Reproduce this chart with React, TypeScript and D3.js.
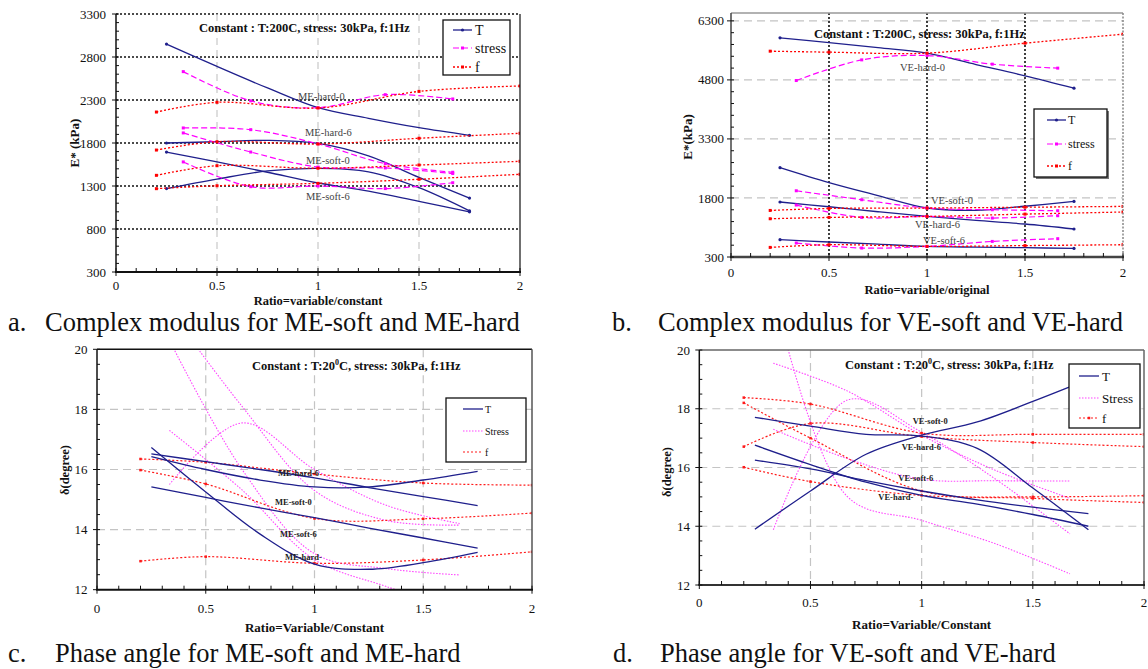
import React from "react";
import * as d3 from "d3";

const W = 1148;
const H = 669;
const FONT = '"Liberation Serif","Times New Roman",Times,serif';

// ---------- shared x values ----------
const X_T = [0.25, 0.5, 0.75, 1, 1.25, 1.5, 1.75];
const X_S = [0.333, 0.667, 1, 1.333, 1.667];
const X_F = [0.2, 0.5, 1, 1.5, 2];
const X_TICKS = [0, 0.5, 1, 1.5, 2];

// ---------- panel a : E* ME ----------
const A_Y_TICKS = [300, 800, 1300, 1800, 2300, 2800, 3300];
const A_T_HARD0 = [2950, 2690, 2440, 2210, 2087, 1978, 1889];
const A_T_HARD6 = [1800, 1815, 1830, 1795, 1650, 1400, 1160];
const A_T_SOFT0 = [1270, 1380, 1475, 1505, 1465, 1280, 1010];
const A_T_SOFT6 = [1695, 1580, 1460, 1335, 1240, 1120, 1000];
const A_S_HARD0 = [2630, 2290, 2210, 2362, 2312];
const A_S_HARD6 = [1975, 1955, 1790, 1560, 1460];
const A_S_SOFT0 = [1917, 1695, 1520, 1510, 1445];
const A_S_SOFT6 = [1580, 1292, 1300, 1270, 1338];
const A_F_HARD0 = [2160, 2273, 2207, 2400, 2463];
const A_F_HARD6 = [1718, 1815, 1788, 1855, 1913];
const A_F_SOFT0 = [1424, 1536, 1506, 1544, 1587];
const A_F_SOFT6 = [1269, 1303, 1331, 1378, 1436];
const A_LABELS = ["ME-hard-0", "ME-hard-6", "ME-soft-0", "ME-soft-6"];

// ---------- panel b : E* VE ----------
const B_Y_TICKS = [300, 1800, 3300, 4800, 6300];
const B_T_HARD0 = [5868, 5749, 5620, 5480, 5190, 4903, 4591];
const B_T_SOFT0 = [2570, 2190, 1860, 1545, 1485, 1590, 1712];
const B_T_HARD6 = [1697, 1577, 1450, 1331, 1230, 1138, 1011];
const B_T_SOFT6 = [739, 681, 625, 569, 550, 536, 518];
const B_S_HARD0 = [4784, 5309, 5420, 5200, 5099];
const B_S_SOFT0 = [1983, 1755, 1544, 1501, 1476];
const B_S_HARD6 = [1620, 1306, 1331, 1290, 1349];
const B_S_SOFT6 = [655, 528, 569, 696, 765];
const B_F_HARD0 = [5530, 5505, 5480, 5733, 5962];
const B_F_SOFT0 = [1483, 1534, 1544, 1565, 1585];
const B_F_HARD6 = [1272, 1306, 1331, 1390, 1443];
const B_F_SOFT6 = [544, 612, 569, 590, 612];
const B_LABELS = ["VE-hard-0", "VE-soft-0", "VE-hard-6", "VE-soft-6"];

// ---------- panel c : delta ME ----------
const C_Y_TICKS = [12, 14, 16, 18, 20];
const C_T_1 = [16.73, 15.25, 13.85, 12.85, 12.68, 12.9, 13.24];
const C_T_2 = [16.52, 16.26, 16.0, 15.72, 15.4, 15.1, 14.8];
const C_T_3 = [16.43, 16.0, 15.65, 15.42, 15.42, 15.65, 15.94];
const C_T_4 = [15.42, 15.07, 14.72, 14.4, 14.05, 13.72, 13.38];
const C_S_1 = [20.3, 16.0, 13.2, 12.7, 12.49];
const C_S_2 = [21.3, 18.1, 15.3, 14.3, 14.15];
const C_S_3 = [15.5, 17.55, 16.0, 14.8, 14.2];
const C_S_4 = [17.3, 15.32, 13.0, 12.1, 11.3];
const C_F_1 = [16.35, 16.24, 15.85, 15.55, 15.48];
const C_F_2 = [15.98, 15.52, 14.37, 14.36, 14.55];
const C_F_3 = [12.95, 13.1, 12.88, 12.99, 13.26];
const C_LABELS = ["ME-hard-6", "ME-soft-0", "ME-soft-6", "ME-hard-"];

// ---------- panel d : delta VE ----------
const D_Y_TICKS = [12, 14, 16, 18, 20];
const D_T_1 = [13.9, 15.2, 16.45, 17.1, 17.55, 18.25, 19.0];
const D_T_2 = [17.71, 17.41, 17.13, 17.07, 16.65, 15.3, 13.88];
const D_T_3 = [16.76, 16.1, 15.5, 15.05, 14.75, 14.4, 14.0];
const D_T_4 = [16.25, 15.95, 15.55, 15.2, 14.9, 14.65, 14.43];
const D_S_1 = [19.55, 18.6, 17.1, 15.9, 14.95];
const D_S_2 = [22.0, 15.0, 14.2, 13.4, 12.38];
const D_S_3 = [13.88, 18.3, 17.2, 15.6, 13.74];
const D_S_4 = [17.3, 16.3, 15.6, 15.55, 15.54];
const D_F_1 = [18.38, 18.16, 17.17, 17.13, 17.13];
const D_F_2 = [18.2, 17.0, 15.2, 14.95, 14.81];
const D_F_3 = [16.71, 17.5, 17.05, 16.85, 16.71];
const D_F_4 = [16.01, 15.52, 15.05, 15.0, 15.04];
const D_LABELS = ["VE-soft-0", "VE-hard-6", "VE-soft-6", "VE-hard-"];

type Kind = "T" | "S" | "F";
type Sty = { stroke: string; width: number; dash?: string; marker?: "sq" | "dot" | null; mSize?: number; marks?: "all" | "ends" | "none" };

const STY_AB: Record<Kind, Sty> = {
  T: { stroke: "#1f1f8c", width: 1.3, marker: "dot", mSize: 1.6, marks: "ends" },
  S: { stroke: "#ff00ff", width: 1.2, dash: "6,3", marker: "sq", mSize: 3, marks: "all" },
  F: { stroke: "#ff0000", width: 1.3, dash: "2,2", marker: "sq", mSize: 3, marks: "all" },
};
const STY_CD: Record<Kind, Sty> = {
  T: { stroke: "#1f1f8c", width: 1.3, marker: null, marks: "none" },
  S: { stroke: "#ff44ff", width: 1.1, dash: "1.5,1.5", marker: null, marks: "none" },
  F: { stroke: "#ff1a1a", width: 1.2, dash: "2,2", marker: "sq", mSize: 2.5, marks: "all" },
};

function mk(xs: number[], ys: number[], kind: Kind) {
  return { xs, ys, kind };
}

function Marker({ cx, cy, s }: { cx: number; cy: number; s: Sty }) {
  if (!s.marker) return null;
  const m = s.mSize || 2;
  if (s.marker === "dot") return <circle cx={cx} cy={cy} r={m} fill={s.stroke} />;
  return <rect x={cx - m / 2} y={cy - m / 2} width={m} height={m} fill={s.stroke} />;
}

function Panel(p: any) {
  const { id, l, r, t, b, yDomain, yTicks, yMinor, hGrid, hGridSty, vGridSty, series, sty, frame, tickFont, yLabelX, xLabelDy, xTitle, xTitleY, xTitleSize, yTitle, yTitleX, yTitleY, yTitleSize, labels, labelPos, labelSty, legend, note, noteX, noteY, legendLines } = p;
  const x = d3.scaleLinear().domain([0, 2]).range([l, r]);
  const y = d3.scaleLinear().domain(yDomain).range([b, t]);
  const line = d3
    .line<[number, number]>()
    .x((d) => x(d[0]))
    .y((d) => y(d[1]))
    .curve(d3.curveCatmullRom.alpha(0.5));
  const minorY = d3.range(yDomain[0], yDomain[1] + 1e-6, yMinor);
  const minorX = d3.range(0, 20.5, 1).map((v) => v / 10);
  return (
    <g>
      <defs>
        <clipPath id={id}>
          <rect x={l} y={t} width={r - l} height={b - t} />
        </clipPath>
      </defs>
      {hGrid.map((v: number) => (
        <line key={"h" + v} x1={l} x2={r} y1={y(v)} y2={y(v)} stroke={hGridSty.stroke} strokeWidth={hGridSty.width} strokeDasharray={hGridSty.dash} />
      ))}
      {[0.5, 1, 1.5].map((v) => (
        <line key={"v" + v} x1={x(v)} x2={x(v)} y1={t} y2={b} stroke={vGridSty.stroke} strokeWidth={vGridSty.width} strokeDasharray={vGridSty.dash} />
      ))}
      <g clipPath={`url(#${id})`}>
        {series.map((s: any, i: number) => {
          const st: Sty = sty[s.kind];
          const pts: [number, number][] = s.xs.map((xv: number, k: number) => [xv, s.ys[k]]);
          return (
            <g key={i}>
              <path d={line(pts) || ""} fill="none" stroke={st.stroke} strokeWidth={st.width} strokeDasharray={st.dash} />
              {pts.map((pt, k) => {
                if (st.marks === "none") return null;
                if (st.marks === "ends" && k !== 0 && k !== pts.length - 1) return null;
                return <Marker key={k} cx={x(pt[0])} cy={y(pt[1])} s={st} />;
              })}
            </g>
          );
        })}
      </g>
      {frame.top && <line x1={l} x2={r} y1={t} y2={t} stroke={frame.top.stroke} strokeWidth={frame.top.width} strokeDasharray={frame.top.dash} />}
      {frame.right && <line x1={r} x2={r} y1={t} y2={b} stroke={frame.right.stroke} strokeWidth={frame.right.width} strokeDasharray={frame.right.dash} />}
      <line x1={l} x2={l} y1={t} y2={b} stroke={frame.left.stroke} strokeWidth={frame.left.width} />
      <line x1={l - 1} x2={r + 1} y1={b} y2={b} stroke={frame.bottom.stroke} strokeWidth={frame.bottom.width} />
      {minorY.map((v: number, i: number) => (
        <line key={"my" + i} x1={l} x2={l + 3} y1={y(v)} y2={y(v)} stroke="#111" strokeWidth={1} />
      ))}
      {yTicks.map((v: number) => (
        <g key={"yt" + v}>
          <line x1={l - 4} x2={l} y1={y(v)} y2={y(v)} stroke="#111" strokeWidth={1} />
          <text x={yLabelX} y={y(v) + tickFont * 0.35} textAnchor="end" fontFamily={FONT} fontSize={tickFont} fill="#111">
            {v}
          </text>
        </g>
      ))}
      {minorX.map((v: number, i: number) => (
        <line key={"mx" + i} x1={x(v)} x2={x(v)} y1={b} y2={b - 4} stroke="#111" strokeWidth={1} />
      ))}
      {X_TICKS.map((v) => (
        <g key={"xt" + v}>
          <line x1={x(v)} x2={x(v)} y1={b} y2={b + 4} stroke="#111" strokeWidth={1} />
          <text x={x(v)} y={b + xLabelDy} textAnchor="middle" fontFamily={FONT} fontSize={tickFont} fill="#111">
            {String(v)}
          </text>
        </g>
      ))}
      <text x={x(1)} y={xTitleY} textAnchor="middle" fontFamily={FONT} fontSize={xTitleSize || 13} fontWeight="bold" fill="#111">
        {xTitle}
      </text>
      <text transform={`translate(${yTitleX},${yTitleY}) rotate(-90)`} textAnchor="middle" fontFamily={FONT} fontSize={yTitleSize} fontWeight="bold" fill="#111">
        {yTitle}
      </text>
      {labels.map((txt: string, i: number) => (
        <text key={"lb" + i} x={labelPos[i][0]} y={labelPos[i][1]} fontFamily={FONT} fontSize={labelSty.size} fontWeight={labelSty.weight} fill={labelSty.fill}>
          {txt}
        </text>
      ))}
      {note && (
        <text x={noteX} y={noteY} fontFamily={FONT} fontSize={12.5} fontWeight="bold" fill="#111">
          {note}
        </text>
      )}
      <g>
        {legend.shadow && <rect x={legend.x + 2} y={legend.y + 2} width={legend.w} height={legend.h} fill="#777" />}
        <rect x={legend.x} y={legend.y} width={legend.w} height={legend.h} fill="#fff" stroke="#111" strokeWidth={1.3} />
        {legendLines.map((e: any, i: number) => {
          const st: Sty = legend.sty[e.kind];
          const yy = legend.rows[i];
          return (
            <g key={"lg" + i}>
              <line x1={legend.lx1} x2={legend.lx2} y1={yy} y2={yy} stroke={st.stroke} strokeWidth={st.width} strokeDasharray={st.dash} />
              {legend.markers && st.marker && <Marker cx={(legend.lx1 + legend.lx2) / 2} cy={yy} s={st} />}
              <text x={legend.tx} y={yy + legend.size * 0.35} fontFamily={FONT} fontSize={legend.size} fill="#111">
                {e.text}
              </text>
            </g>
          );
        })}
      </g>
    </g>
  );
}

function Note20({ x, y }: { x: number; y: number }) {
  return (
    <text x={x} y={y} fontFamily={FONT} fontSize={12.5} fontWeight="bold" fill="#111">
      Constant : T:20
      <tspan fontSize={8} dy={-5}>0</tspan>
      <tspan dy={5}>C, stress: 30kPa, f:1Hz</tspan>
    </text>
  );
}

export default function App() {
  const frameA = {
    top: null,
    right: { stroke: "#222", width: 1.3 },
    left: { stroke: "#111", width: 1.5 },
    bottom: { stroke: "#111", width: 2 },
  };
  const frameB = {
    top: { stroke: "#999", width: 1.5 },
    right: { stroke: "#888", width: 1.5, dash: "2,1.5" },
    left: { stroke: "#444", width: 1.5 },
    bottom: { stroke: "#444", width: 2.5 },
  };
  const frameC = {
    top: { stroke: "#111", width: 1.5 },
    right: { stroke: "#555", width: 1.5 },
    left: { stroke: "#111", width: 1.5 },
    bottom: { stroke: "#111", width: 2 },
  };
  const frameD = {
    top: { stroke: "#666", width: 1.5 },
    right: { stroke: "#666", width: 1.5 },
    left: { stroke: "#111", width: 1.5 },
    bottom: { stroke: "#333", width: 2 },
  };
  const gridGray = { stroke: "#c4c4c4", width: 1.2, dash: "8,5" };
  const gridBlackDot = { stroke: "#111", width: 1.6, dash: "2,2" };

  const legendTxtA = [
    { kind: "T", text: "T" },
    { kind: "S", text: "stress" },
    { kind: "F", text: "f" },
  ];
  const legendTxtC = [
    { kind: "T", text: "T" },
    { kind: "S", text: "Stress" },
    { kind: "F", text: "f" },
  ];

  return (
    <svg width={W} height={H} style={{ position: "absolute", left: 0, top: 0, display: "block" }}>
      <rect x={0} y={0} width={W} height={H} fill="#fff" />

      <Panel
        id="clipA"
        l={116}
        r={520}
        t={14}
        b={272}
        yDomain={[300, 3300]}
        yTicks={A_Y_TICKS}
        yMinor={100}
        hGrid={[800, 1300, 1800, 2300, 2800, 3300]}
        hGridSty={gridBlackDot}
        vGridSty={{ stroke: "#c8c8c8", width: 1.2, dash: "7,5" }}
        sty={STY_AB}
        series={[
          mk(X_T, A_T_HARD0, "T"),
          mk(X_T, A_T_HARD6, "T"),
          mk(X_T, A_T_SOFT0, "T"),
          mk(X_T, A_T_SOFT6, "T"),
          mk(X_S, A_S_HARD0, "S"),
          mk(X_S, A_S_HARD6, "S"),
          mk(X_S, A_S_SOFT0, "S"),
          mk(X_S, A_S_SOFT6, "S"),
          mk(X_F, A_F_HARD0, "F"),
          mk(X_F, A_F_HARD6, "F"),
          mk(X_F, A_F_SOFT0, "F"),
          mk(X_F, A_F_SOFT6, "F"),
        ]}
        frame={frameA}
        tickFont={13}
        yLabelX={106}
        xLabelDy={18}
        xTitle="Ratio=variable/constant"
        xTitleY={305}
        xTitleSize={12.5}
        yTitle="E* (kPa)"
        yTitleX={79}
        yTitleY={143}
        yTitleSize={13}
        labels={A_LABELS}
        labelPos={[
          [298, 99.5],
          [305, 135.5],
          [306, 163.5],
          [306, 199.5],
        ]}
        labelSty={{ size: 10.5, weight: "normal", fill: "#444" }}
        note="Constant : T:200C, stress: 30kPa, f:1Hz"
        noteX={199}
        noteY={32}
        legend={{ x: 443, y: 20, w: 67, h: 55, rows: [30, 48, 67], lx1: 453, lx2: 472, tx: 475, size: 14, sty: STY_AB, markers: true }}
        legendLines={legendTxtA}
      />

      <Panel
        id="clipB"
        l={731}
        r={1123}
        t={13}
        b={257}
        yDomain={[300, 6500]}
        yTicks={B_Y_TICKS}
        yMinor={300}
        hGrid={[1800, 3300, 4800, 6300]}
        hGridSty={gridGray}
        vGridSty={gridBlackDot}
        sty={STY_AB}
        series={[
          mk(X_T, B_T_HARD0, "T"),
          mk(X_T, B_T_SOFT0, "T"),
          mk(X_T, B_T_HARD6, "T"),
          mk(X_T, B_T_SOFT6, "T"),
          mk(X_S, B_S_HARD0, "S"),
          mk(X_S, B_S_SOFT0, "S"),
          mk(X_S, B_S_HARD6, "S"),
          mk(X_S, B_S_SOFT6, "S"),
          mk(X_F, B_F_HARD0, "F"),
          mk(X_F, B_F_SOFT0, "F"),
          mk(X_F, B_F_HARD6, "F"),
          mk(X_F, B_F_SOFT6, "F"),
        ]}
        frame={frameB}
        tickFont={13}
        yLabelX={724}
        xLabelDy={20}
        xTitle="Ratio=variable/original"
        xTitleY={294}
        xTitleSize={12.5}
        yTitle="E*(kPa)"
        yTitleX={692}
        yTitleY={137}
        yTitleSize={13}
        labels={B_LABELS}
        labelPos={[
          [900, 70.5],
          [931, 203.5],
          [915, 227.5],
          [923, 243.5],
        ]}
        labelSty={{ size: 10.5, weight: "normal", fill: "#444" }}
        note="Constant : T:200C, stress: 30kPa, f:1Hz"
        noteX={814}
        noteY={38}
        legend={{ x: 1034, y: 109, w: 73, h: 68, rows: [120, 144, 166], lx1: 1047, lx2: 1066, tx: 1068, size: 12, sty: STY_AB, markers: true, shadow: true }}
        legendLines={legendTxtA}
      />

      <Panel
        id="clipC"
        l={97}
        r={532}
        t={349.3}
        b={589.7}
        yDomain={[12, 20]}
        yTicks={C_Y_TICKS}
        yMinor={0.5}
        hGrid={[14, 16, 18]}
        hGridSty={gridGray}
        vGridSty={gridGray}
        sty={STY_CD}
        series={[
          mk(X_S, C_S_1, "S"),
          mk(X_S, C_S_2, "S"),
          mk(X_S, C_S_3, "S"),
          mk(X_S, C_S_4, "S"),
          mk(X_F, C_F_1, "F"),
          mk(X_F, C_F_2, "F"),
          mk(X_F, C_F_3, "F"),
          mk(X_T, C_T_1, "T"),
          mk(X_T, C_T_2, "T"),
          mk(X_T, C_T_3, "T"),
          mk(X_T, C_T_4, "T"),
        ]}
        frame={frameC}
        tickFont={13}
        yLabelX={87.5}
        xLabelDy={23}
        xTitle="Ratio=Variable/Constant"
        xTitleY={632}
        yTitle="δ(degree)"
        yTitleX={69}
        yTitleY={470}
        yTitleSize={12.5}
        labels={C_LABELS}
        labelPos={[
          [278, 476],
          [275, 505],
          [280, 537],
          [285, 560],
        ]}
        labelSty={{ size: 8.5, weight: "bold", fill: "#222" }}
        note=""
        noteX={0}
        noteY={0}
        legend={{ x: 446, y: 398, w: 80, h: 64, rows: [409, 431, 452], lx1: 463, lx2: 483, tx: 485, size: 10, sty: STY_CD, markers: false }}
        legendLines={legendTxtC}
      />
      <Note20 x={252} y={370} />

      <Panel
        id="clipD"
        l={699.3}
        r={1144}
        t={350}
        b={585}
        yDomain={[12, 20]}
        yTicks={D_Y_TICKS}
        yMinor={0.5}
        hGrid={[14, 16, 18]}
        hGridSty={gridGray}
        vGridSty={gridGray}
        sty={STY_CD}
        series={[
          mk(X_S, D_S_1, "S"),
          mk(X_S, D_S_2, "S"),
          mk(X_S, D_S_3, "S"),
          mk(X_S, D_S_4, "S"),
          mk(X_F, D_F_1, "F"),
          mk(X_F, D_F_2, "F"),
          mk(X_F, D_F_3, "F"),
          mk(X_F, D_F_4, "F"),
          mk(X_T, D_T_1, "T"),
          mk(X_T, D_T_2, "T"),
          mk(X_T, D_T_3, "T"),
          mk(X_T, D_T_4, "T"),
        ]}
        frame={frameD}
        tickFont={13}
        yLabelX={690}
        xLabelDy={22}
        xTitle="Ratio=Variable/Constant"
        xTitleY={628.5}
        yTitle="δ(degree)"
        yTitleX={671}
        yTitleY={472}
        yTitleSize={12.5}
        labels={D_LABELS}
        labelPos={[
          [912.7, 423.5],
          [901.7, 450],
          [898.3, 481],
          [878.3, 500],
        ]}
        labelSty={{ size: 8.5, weight: "bold", fill: "#222" }}
        note=""
        noteX={0}
        noteY={0}
        legend={{ x: 1069, y: 364, w: 71, h: 64, rows: [376, 398, 418], lx1: 1079, lx2: 1099, tx: 1102, size: 13, sty: STY_CD, markers: true }}
        legendLines={legendTxtC}
      />
      <Note20 x={845} y={369} />

      <g fontFamily={FONT} fontSize={26.5} fill="#111">
        <text x={8} y={331}>a.</text>
        <text x={45} y={331}>Complex modulus for ME-soft and ME-hard</text>
        <text x={612} y={331}>b.</text>
        <text x={658} y={331}>Complex modulus for VE-soft and VE-hard</text>
        <text x={8} y={662}>c.</text>
        <text x={55} y={662}>Phase angle for ME-soft and ME-hard</text>
        <text x={613} y={662}>d.</text>
        <text x={660} y={662}>Phase angle for VE-soft and VE-hard</text>
      </g>
    </svg>
  );
}
